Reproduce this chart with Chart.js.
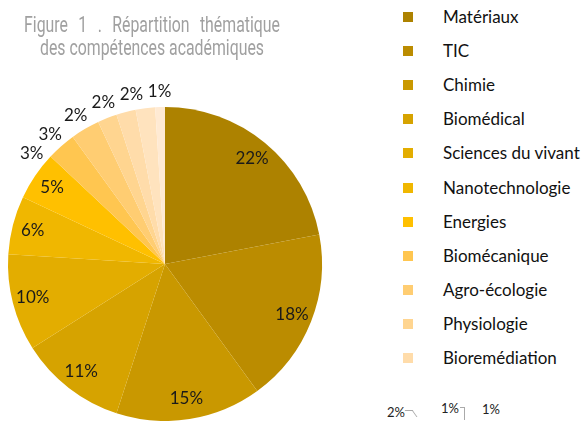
<!DOCTYPE html>
<html lang="fr">
<head>
<meta charset="utf-8">
<script src="https://cdn.jsdelivr.net/npm/chart.js@4"></script>
<style>
  html, body { margin: 0; padding: 0; background: #fff; }
  body { width: 582px; height: 421px; position: relative; overflow: hidden; }
  #titre {
    position: absolute; left: -98px; top: 13px; width: 500px; text-align: center;
    font-family: Roboto, "Open Sans", sans-serif; font-weight: 400;
    font-size: 22px; line-height: 23px; color: #a0a0a0; z-index: 2;
  }
  #titre div { transform: scaleX(0.72); transform-origin: 250px 0; white-space: nowrap; }
  #zonePie { position: absolute; left: 0; top: 0; width: 330px; height: 421px; }
  #legende { position: absolute; left: 403px; top: 0; font-family: Lato, "Open Sans", sans-serif; font-size: 17px; color: #111; }
  .item { position: absolute; left: 0; height: 20px; white-space: nowrap; }
  .item span.carre { position: absolute; left: 0; top: 5px; width: 10px; height: 10px; }
  .item span.nom { position: absolute; left: 40px; top: 0; line-height: 20px; }
  .hors { position: absolute; font-family: Lato, "Open Sans", sans-serif; font-size: 13px; color: #222; }
</style>
</head>
<body>
<div id="titre"><div style="word-spacing:9px">Figure 1 . Répartition thématique</div><div>des compétences académiques</div></div>
<div id="zonePie"><canvas id="grafico"></canvas></div>
<div id="legende"></div>
<div class="hors" style="left:387px; top:404px;">2%</div>
<div style="position:absolute; left:407px; top:410px; width:7px; height:6px; border-top:1px solid #aaa; border-right:1px solid #aaa; transform:skewX(35deg);"></div>
<div class="hors" style="left:441px; top:400px;">1%</div>
<div style="position:absolute; left:460px; top:407px; width:4px; height:12px; border-top:1px solid #aaa; border-right:1px solid #aaa;"></div>
<div class="hors" style="left:482px; top:401px;">1%</div>
<script>
// DONNÉES
const categories = ['Matériaux', 'TIC', 'Chimie', 'Biomédical', 'Sciences du vivant', 'Nanotechnologie',
    'Energies', 'Biomécanique', 'Agro-écologie', 'Physiologie', 'Bioremédiation']
const valeurs = [22, 18, 15, 11, 10, 6, 5, 3, 3, 2, 2, 2, 1]
const couleurs = ['#ad8200', '#bb8c00', '#c99800', '#d6a300', '#e3ad00', '#f0b700', '#ffc000',
    '#ffc650', '#ffcd72', '#ffd590', '#ffdcaa', '#ffe3be', '#ffead3']

const etiquettes = valeurs.map((v, i) => categories[i] || '')

//PLUGIN POUR LES POURCENTAGES (dedans pour les grandes parts, dehors sinon)
const pourcentages = {
    id: 'pourcentages',
    afterDatasetsDraw(chart) {
        const ctx = chart.ctx
        const meta = chart.getDatasetMeta(0)
        ctx.save()
        ctx.font = '17px Lato, "Open Sans", sans-serif'
        ctx.fillStyle = '#1a1a1a'
        ctx.textAlign = 'center'
        ctx.textBaseline = 'middle'
        const places = []
        for (let i = meta.data.length - 1; i >= 0; i--) {
            const arc = meta.data[i]
            const v = valeurs[i]
            const txt = v + '%'
            let ang = (arc.startAngle + arc.endAngle) / 2
            const r = arc.outerRadius
            if (v >= 5) {
                ctx.fillText(txt, arc.x + Math.cos(ang) * r * 0.87, arc.y + Math.sin(ang) * r * 0.87)
                continue
            }
            const w = ctx.measureText(txt).width + 4
            const h = 18
            let x, y
            for (let k = 0; k < 200; k++) {
                x = arc.x + Math.cos(ang) * (r + 16)
                y = arc.y + Math.sin(ang) * (r + 16)
                const choc = places.some(p => Math.abs(p.x - x) < (p.w + w) / 2 && Math.abs(p.y - y) < h)
                if (!choc) break
                ang -= Math.PI / 360
            }
            places.push({ x, y, w })
            ctx.fillText(txt, x, y)
        }
        ctx.restore()
    }
}

const chart = new Chart(document.querySelector('#grafico'), {
    type: 'pie',
    data: {
        labels: etiquettes,
        datasets: [{
            data: valeurs,
            backgroundColor: couleurs,
            borderWidth: 0
        }]
    },
    options: {
        responsive: true,
        maintainAspectRatio: false,
        animation: false,
        layout: { padding: { top: 107, left: 0, right: 0, bottom: 0 } },
        plugins: {
            legend: { display: false },
            tooltip: { enabled: false }
        }
    },
    plugins: [pourcentages]
})

//LÉGENDE HTML
const legende = document.querySelector('#legende')
categories.forEach((nom, i) => {
    const item = document.createElement('div')
    item.className = 'item'
    item.style.top = (7 + i * 34.1) + 'px'
    item.innerHTML = `<span class="carre" style="background:${couleurs[i]}"></span><span class="nom">${nom}</span>`
    legende.appendChild(item)
})
</script>
</body>
</html>
